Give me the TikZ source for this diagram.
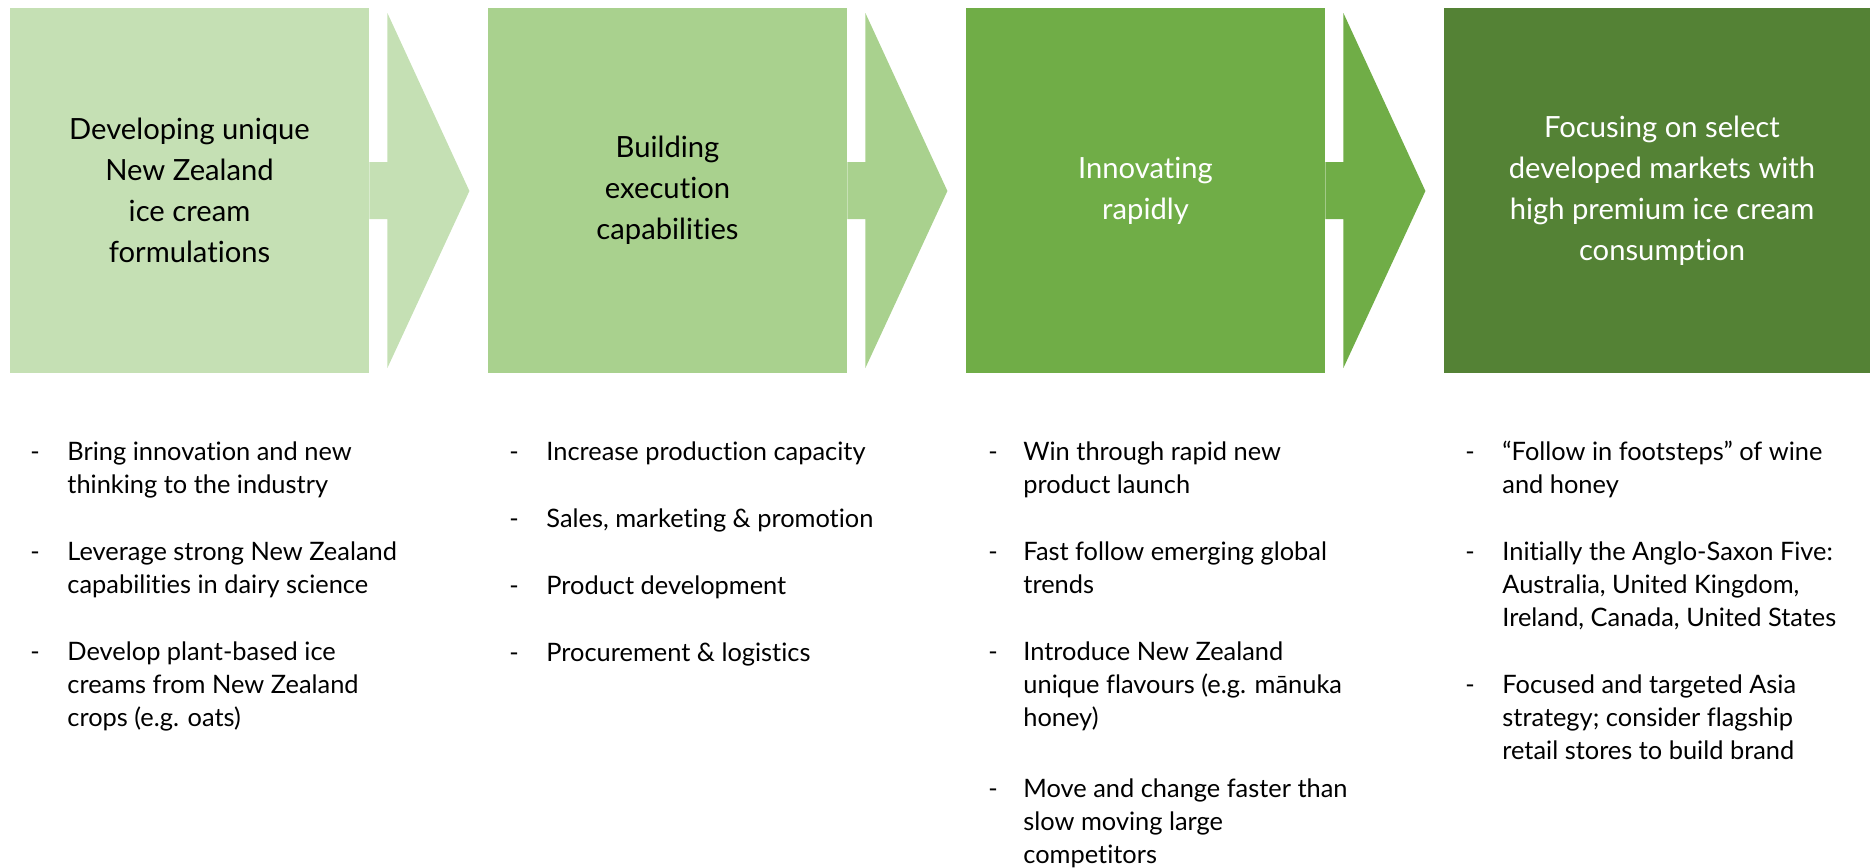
\documentclass[tikz,border=0pt]{standalone}
\usepackage{fontspec}
\setmainfont{Lato}[Ligatures=NoCommon]
\usetikzlibrary{positioning}

\definecolor{greenA}{HTML}{C5E0B4}
\definecolor{greenB}{HTML}{A9D18E}
\definecolor{greenC}{HTML}{70AD47}
\definecolor{greenD}{HTML}{548235}

\tikzset{
  stage/.style={minimum width=179.5pt, minimum height=182.5pt, inner sep=0pt,
    align=center, font=\fontsize{14.6}{20.5}\selectfont},
  points/.style={anchor=base west, inner sep=0pt, font=\fontsize{12.7}{16.5}\selectfont},
}

\begin{document}
\begin{tikzpicture}[x=0.5pt, y=-0.5pt]
  \clip (0,0) rectangle (1870,868);

  % the four stages
  \node[stage, fill=greenA] (s1) at (189.5,190.5) {Developing unique\\New Zealand\\ice cream\\formulations};
  \node[stage, fill=greenB] (s2) at (667.5,190.5) {Building\\execution\\capabilities};
  \node[stage, fill=greenC, text=white] (s3) at (1145.5,190.5) {Innovating\\rapidly};
  \node[stage, fill=greenD, text=white, minimum width=218pt] (s4) at (1662,190.5)
    {Focusing on select\\developed markets with\\high premium ice cream\\consumption};

  % chevrons between the stages
  \foreach \s/\c in {s1/greenA, s2/greenB, s3/greenC}
    \fill[\c] (\s.east) -- ++(0,-28.5) -- ++(18,0) -- ++(0,-149) -- ++(82,178)
      -- ++(-82,177) -- ++(0,-149) -- ++(-18,0) -- cycle;

  % points under each stage
  \node[points] (p1) at (30,460) {\begin{tabular}[t]{@{}p{18.5pt}@{}l@{}}
    - & Bring innovation and new\\
      & thinking to the industry\\[17pt]
    - & Leverage strong New Zealand\\
      & capabilities in dairy science\\[17pt]
    - & Develop plant-based ice\\
      & creams from New Zealand\\
      & crops (e.g. oats)
  \end{tabular}};
  \node[points] (p2) at (509,460) {\begin{tabular}[t]{@{}p{18.5pt}@{}l@{}}
    - & Increase production capacity\\[17pt]
    - & Sales, marketing \& promotion\\[17pt]
    - & Product development\\[17pt]
    - & Procurement \& logistics
  \end{tabular}};
  \node[points] (p3) at (988,460) {\begin{tabular}[t]{@{}p{17.5pt}@{}l@{}}
    - & Win through rapid new\\
      & product launch\\[17pt]
    - & Fast follow emerging global\\
      & trends\\[17pt]
    - & Introduce New Zealand\\
      & unique flavours (e.g. mānuka\\
      & honey)\\[19pt]
    - & Move and change faster than\\
      & slow moving large\\
      & competitors
  \end{tabular}};
  \node[points] (p4) at (1465,460) {\begin{tabular}[t]{@{}p{18.5pt}@{}l@{}}
    - & “Follow in footsteps” of wine\\
      & and honey\\[17pt]
    - & Initially the Anglo-Saxon Five:\\
      & Australia, United Kingdom,\\
      & Ireland, Canada, United States\\[17pt]
    - & Focused and targeted Asia\\
      & strategy; consider flagship\\
      & retail stores to build brand
  \end{tabular}};
\end{tikzpicture}
\end{document}
